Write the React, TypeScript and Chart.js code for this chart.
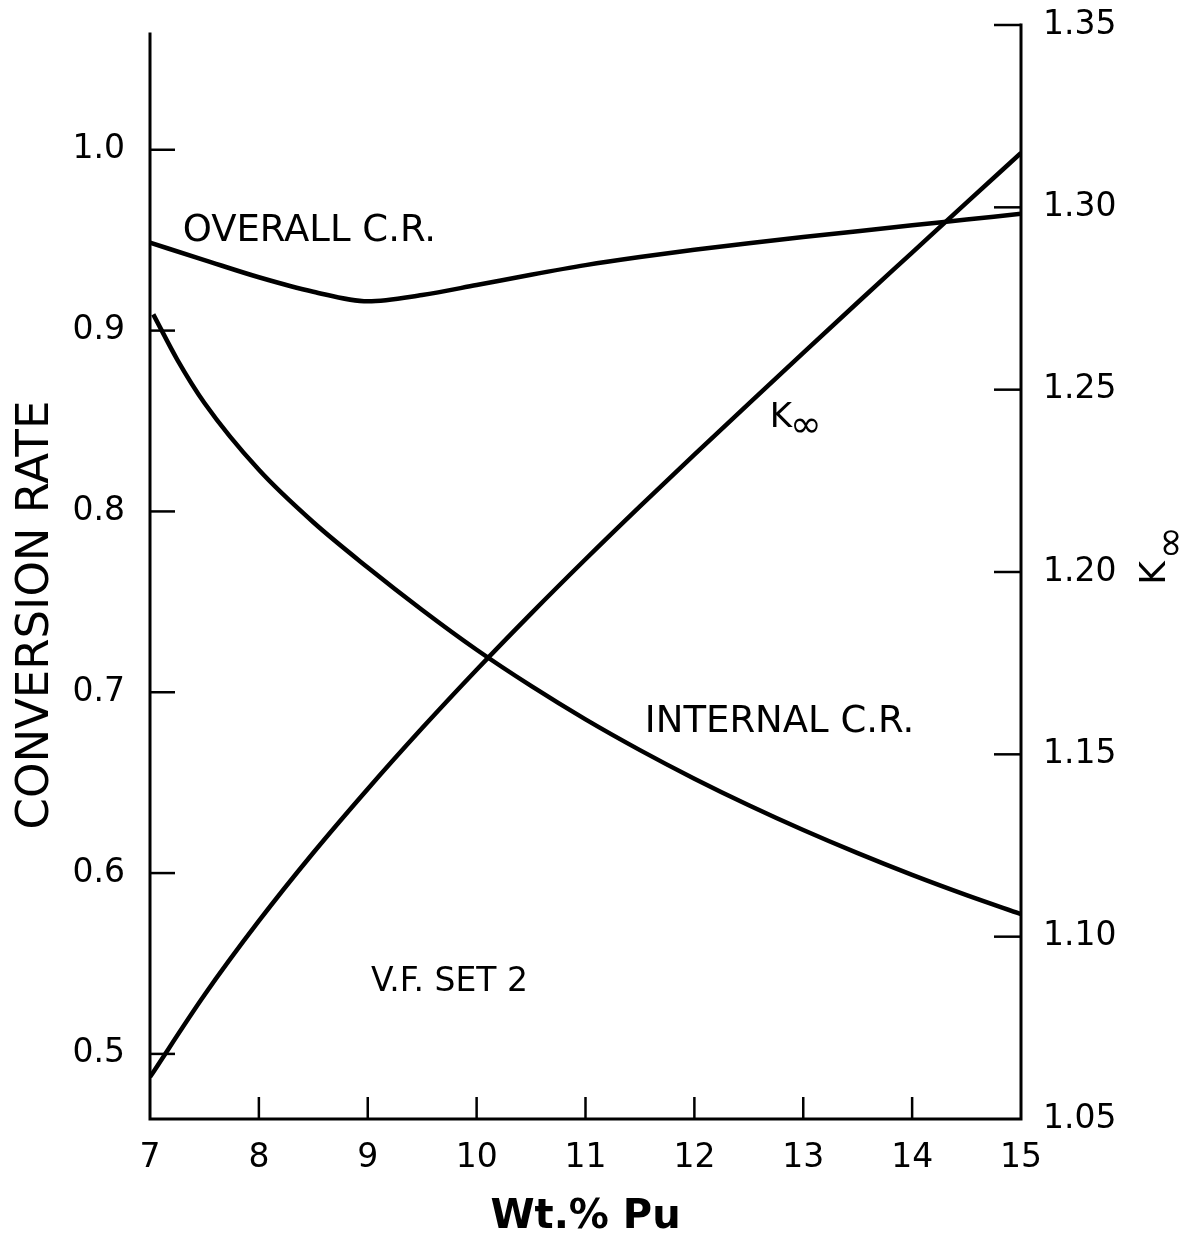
import React, { useEffect, useRef } from 'react';
import { Chart, registerables } from 'chart.js';

Chart.register(...registerables);

// ---- data ----
const WT_PU = [7, 7.5, 8, 8.5, 9, 9.5, 10, 10.5, 11, 11.5, 12, 12.5, 13, 13.5, 14, 14.5, 15];
const OVERALL_CR = [0.9486, 0.939, 0.9295, 0.9215, 0.9162, 0.9197, 0.9252, 0.9309, 0.9362, 0.9407, 0.9447, 0.9483, 0.9517, 0.955, 0.9582, 0.9614, 0.9646];
const INTERNAL_WT = [7.03, 7.25, 7.5, 8, 8.5, 9, 9.5, 10, 10.5, 11, 11.5, 12, 12.5, 13, 13.5, 14, 14.5, 15];
const INTERNAL_CR = [0.909, 0.884, 0.86, 0.823, 0.794, 0.769, 0.7455, 0.7235, 0.7035, 0.685, 0.668, 0.6522, 0.6375, 0.6238, 0.611, 0.599, 0.5878, 0.5773];
const K_INF = [1.0615, 1.084, 1.1043, 1.123, 1.1405, 1.1572, 1.1732, 1.1886, 1.2035, 1.218, 1.2322, 1.2462, 1.2601, 1.2739, 1.2876, 1.3013, 1.3149];

const X_TICKS = [7, 8, 9, 10, 11, 12, 13, 14, 15];
const X_TICK_LABELS = ['7', '8', '9', '10', '11', '12', '13', '14', '15'];
const CR_TICKS = [0.5, 0.6, 0.7, 0.8, 0.9, 1.0];
const CR_TICK_LABELS = ['0.5', '0.6', '0.7', '0.8', '0.9', '1.0'];
const K_TICKS = [1.05, 1.1, 1.15, 1.2, 1.25, 1.3, 1.35];
const K_TICK_LABELS = ['1.05', '1.10', '1.15', '1.20', '1.25', '1.30', '1.35'];

const X_TITLE = 'Wt.% Pu';
const CR_TITLE = 'CONVERSION RATE';
const CURVE_NOTES = ['OVERALL C.R.', 'INTERNAL C.R.', 'V.F. SET 2'];

// ---- layout / style (not data) ----
const FONT = '"DejaVu Sans", sans-serif';
const CR_MIN = 0.464;
const CR_MAX = 1.069;
const CR_AXIS_TOP = 1.064;
const NOTE_POS = [
  { x: 7.3, y: 0.955, size: 37 },
  { x: 11.545, y: 0.6836, size: 37 },
  { x: 9.03, y: 0.5398, size: 33 },
];
const K_NOTE_POS = { x: 12.693, y: 0.8468 };

const labelFor = (ticks: number[], labels: string[]) => (v: any) => {
  const i = ticks.findIndex((t) => Math.abs(t - Number(v)) < 1e-9);
  return i >= 0 ? labels[i] : '';
};

const noPad = (s: any) => {
  s.paddingTop = 0;
  s.paddingBottom = 0;
  s.paddingLeft = 0;
  s.paddingRight = 0;
};

const refPlugin = {
  id: 'refDrawing',
  afterDraw(chart: any) {
    const { ctx, chartArea: a, scales } = chart;
    const xs = scales.x;
    const ys = scales.y;
    const ks = scales.y1;
    ctx.save();
    ctx.strokeStyle = '#000';
    ctx.fillStyle = '#000';
    // axis frame
    ctx.lineWidth = 3;
    ctx.lineJoin = 'miter';
    ctx.lineCap = 'square';
    ctx.beginPath();
    ctx.moveTo(a.left, ys.getPixelForValue(CR_AXIS_TOP));
    ctx.lineTo(a.left, a.bottom);
    ctx.lineTo(a.right, a.bottom);
    ctx.lineTo(a.right, a.top);
    ctx.stroke();
    // inward ticks
    ctx.lineCap = 'butt';
    ctx.lineWidth = 2.5;
    CR_TICKS.forEach((v) => {
      const py = ys.getPixelForValue(v);
      ctx.beginPath();
      ctx.moveTo(a.left, py);
      ctx.lineTo(a.left + 25, py);
      ctx.stroke();
    });
    X_TICKS.slice(1, -1).forEach((v) => {
      const px = xs.getPixelForValue(v);
      ctx.beginPath();
      ctx.moveTo(px, a.bottom);
      ctx.lineTo(px, a.bottom - 22);
      ctx.stroke();
    });
    K_TICKS.slice(1).forEach((v) => {
      const py = ks.getPixelForValue(v);
      ctx.beginPath();
      ctx.moveTo(a.right - 27, py);
      ctx.lineTo(a.right, py);
      ctx.stroke();
    });

    // curve notes
    ctx.textAlign = 'left';
    ctx.textBaseline = 'middle';
    CURVE_NOTES.forEach((t, i) => {
      const p = NOTE_POS[i];
      ctx.font = `${p.size}px ${FONT}`;
      ctx.fillText(t, xs.getPixelForValue(p.x), ys.getPixelForValue(p.y));
    });
    // K∞ note on the curve
    ctx.textBaseline = 'alphabetic';
    const kx = xs.getPixelForValue(K_NOTE_POS.x);
    const ky = ys.getPixelForValue(K_NOTE_POS.y);
    ctx.font = `34px ${FONT}`;
    ctx.fillText('K', kx, ky);
    const kw = ctx.measureText('K').width;
    ctx.font = `38px ${FONT}`;
    ctx.fillText('\u221E', kx + kw - 2, ky + 10);

    // left axis title
    ctx.save();
    ctx.translate(48, 615);
    ctx.rotate(-Math.PI / 2);
    ctx.font = `45px ${FONT}`;
    ctx.textAlign = 'center';
    ctx.fillText(CR_TITLE, 0, 0);
    ctx.restore();

    // right axis title K∞
    ctx.save();
    ctx.translate(a.right + 144, ks.getPixelForValue(1.1965));
    ctx.rotate(-Math.PI / 2);
    ctx.textAlign = 'left';
    ctx.font = `36px ${FONT}`;
    ctx.fillText('K', 0, 0);
    const w = ctx.measureText('K').width;
    ctx.font = `40px ${FONT}`;
    ctx.fillText('\u221E', w + 2, 18);
    ctx.restore();

    ctx.restore();
  },
};

export default function App() {
  const ref = useRef<HTMLCanvasElement | null>(null);
  useEffect(() => {
    const canvas = ref.current;
    if (!canvas) return;
    const line = { borderColor: '#000', borderWidth: 4.5, pointRadius: 0, cubicInterpolationMode: 'monotone' as const, fill: false };
    const chart = new Chart(canvas, {
      type: 'line',
      data: {
        datasets: [
          { ...line, label: 'OVERALL C.R.', yAxisID: 'y', data: WT_PU.map((x, i) => ({ x, y: OVERALL_CR[i] })) },
          { ...line, label: 'INTERNAL C.R.', yAxisID: 'y', data: INTERNAL_WT.map((x, i) => ({ x, y: INTERNAL_CR[i] })) },
          { ...line, label: 'K∞', yAxisID: 'y1', data: WT_PU.map((x, i) => ({ x, y: K_INF[i] })) },
        ],
      },
      options: {
        responsive: false,
        animation: false,
        events: [],
        layout: { padding: { top: 25, left: 0, right: 0, bottom: 0 } },
        plugins: { legend: { display: false }, tooltip: { enabled: false }, title: { display: false } },
        scales: {
          x: {
            type: 'linear',
            position: 'bottom',
            min: 7,
            max: 15,
            afterBuildTicks: (s: any) => { s.ticks = X_TICKS.map((v) => ({ value: v })); },
            afterFit: (s: any) => { s.height = 123; noPad(s); },
            grid: { display: false, drawTicks: false },
            border: { display: false },
            ticks: {
              color: '#000',
              padding: 20,
              maxRotation: 0,
              autoSkip: false,
              font: { family: FONT, size: 33 },
              callback: labelFor(X_TICKS, X_TICK_LABELS),
            },
            title: {
              display: true,
              text: X_TITLE,
              color: '#000',
              font: { family: FONT, size: 40, weight: 'bold', lineHeight: 1.2 },
              padding: { top: 0, bottom: 0 },
            },
          },
          y: {
            type: 'linear',
            position: 'left',
            min: CR_MIN,
            max: CR_MAX,
            afterBuildTicks: (s: any) => { s.ticks = CR_TICKS.map((v) => ({ value: v })); },
            afterFit: (s: any) => { s.width = 150; noPad(s); },
            grid: { display: false, drawTicks: false },
            border: { display: false },
            ticks: {
              color: '#000',
              padding: 25,
              autoSkip: false,
              font: { family: FONT, size: 33 },
              callback: labelFor(CR_TICKS, CR_TICK_LABELS),
            },
          },
          y1: {
            type: 'linear',
            position: 'right',
            min: 1.05,
            max: 1.35,
            afterBuildTicks: (s: any) => { s.ticks = K_TICKS.map((v) => ({ value: v })); },
            afterFit: (s: any) => { s.width = 165; noPad(s); },
            grid: { display: false, drawTicks: false },
            border: { display: false },
            ticks: {
              color: '#000',
              padding: 22,
              autoSkip: false,
              font: { family: FONT, size: 33 },
              callback: labelFor(K_TICKS, K_TICK_LABELS),
            },
          },
        },
      },
      plugins: [refPlugin],
    } as any);
    return () => chart.destroy();
  }, []);

  return (
    <div style={{ position: 'absolute', left: 0, top: 0, width: 1186, height: 1242, background: '#fff' }}>
      <canvas ref={ref} width={1186} height={1242} style={{ display: 'block', width: 1186, height: 1242 }} />
    </div>
  );
}
